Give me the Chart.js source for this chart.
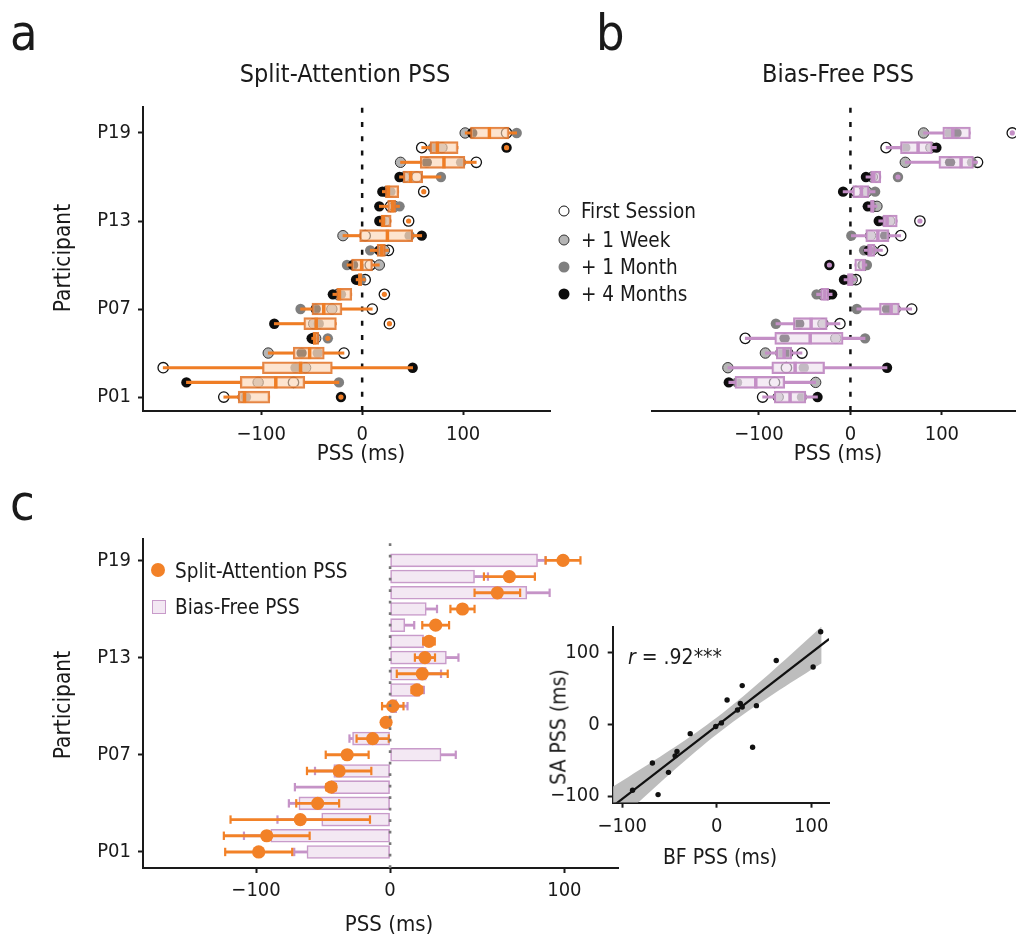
<!DOCTYPE html>
<html><head><meta charset="utf-8">
<script src="https://cdn.jsdelivr.net/npm/chart.js@4.4.1/dist/chart.umd.min.js"></script>
<style>
html,body{margin:0;padding:0;background:#fff;overflow:hidden;width:1016px;height:939px;}
body{position:relative;font-family:"DejaVu Sans Condensed","Liberation Sans Narrow","Liberation Sans",sans-serif;color:#1a1a1a;}
canvas{position:absolute;}
.t{position:absolute;white-space:nowrap;line-height:1;transform:translate(-50%,-50%);}
.v{transform:translate(-50%,-50%) rotate(-90deg);}
.l{position:absolute;white-space:nowrap;line-height:1;transform:translate(0,-50%);}
.p{position:absolute;line-height:1;font-size:50px;}
.mk{position:absolute;border-radius:50%;transform:translate(-50%,-50%);box-sizing:border-box;}
</style></head><body>
<canvas id="ca" width="570" height="480" style="left:0px;top:0px"></canvas>
<canvas id="cb" width="430" height="480" style="left:600px;top:0px"></canvas>
<canvas id="cc" width="640" height="439" style="left:0px;top:500px"></canvas>
<canvas id="cd" width="330" height="280" style="left:520px;top:600px"></canvas>

<div class="p" style="left:10px;top:8px">a</div>
<div class="p" style="left:596px;top:8px">b</div>
<div class="p" style="left:10px;top:478px">c</div>

<div class="t" style="left:345px;top:73px;font-size:25px">Split-Attention PSS</div>
<div class="t" style="left:838px;top:73px;font-size:25px">Bias-Free PSS</div>
<div class="t v" style="left:62px;top:258px;font-size:22.5px">Participant</div>
<div class="t v" style="left:62px;top:705px;font-size:22.5px">Participant</div>
<div class="t" style="left:361px;top:453px;font-size:22px">PSS (ms)</div>
<div class="t" style="left:838px;top:453px;font-size:22px">PSS (ms)</div>
<div class="t" style="left:389px;top:924px;font-size:22px">PSS (ms)</div>
<div class="t v" style="left:559px;top:727px;font-size:21px">SA PSS (ms)</div>
<div class="t" style="left:720px;top:857px;font-size:21px">BF PSS (ms)</div>
<div class="l" style="left:628px;top:657px;font-size:21px"><i>r</i> = .92***</div>

<div class="mk" style="left:564px;top:211px;width:11px;height:11px;background:#fff;border:1.3px solid #111"></div>
<div class="mk" style="left:564px;top:240px;width:11px;height:11px;background:#b5b5b5;border:1px solid #333"></div>
<div class="mk" style="left:564px;top:267px;width:11px;height:11px;background:#7f7f7f"></div>
<div class="mk" style="left:564px;top:294px;width:11px;height:11px;background:#0d0d0d"></div>
<div class="l" style="left:581px;top:211px;font-size:20.5px">First Session</div>
<div class="l" style="left:581px;top:240px;font-size:20.5px">+ 1 Week</div>
<div class="l" style="left:581px;top:267px;font-size:20.5px">+ 1 Month</div>
<div class="l" style="left:581px;top:294px;font-size:20.5px">+ 4 Months</div>

<div class="mk" style="left:158px;top:570px;width:14px;height:14px;background:#f28127"></div>
<div style="position:absolute;left:152px;top:600px;width:14px;height:14px;box-sizing:border-box;background:#f3e8f3;border:1.5px solid #c89bca"></div>
<div class="l" style="left:175px;top:571px;font-size:20.5px">Split-Attention PSS</div>
<div class="l" style="left:175px;top:607px;font-size:20.5px">Bias-Free PSS</div>

<script>
// ---------------- data ----------------
const participants = ['P01','P02','P03','P04','P05','P06','P07','P08','P09','P10','P11','P12','P13','P14','P15','P16','P17','P18','P19'];
const sessionNames = ['First Session','+ 1 Week','+ 1 Month','+ 4 Months'];

// Panel a: Split-Attention PSS per session (ms)
const saFirst = [-137,-68,-197,-18,-48,27,10,22,3,8,26,3,46,28,61,54,113,59,143];
const saWeek  = [-118,-103,-56,-93,-46,-48,-30,-24,-3,17,22,-19,23,32,24,42,38,79,102];
const saMonth = [-115,-23,-66,-44,-34,-43,-61,-21,-1,-15,8,47,19,37,28,78,98,70,153];
const saFour  = [-21,-174,50,-60,-50,-87,-46,-29,-6,-9,17,59,17,17,20,37,64,143,109];

// Panel b: Bias-Free PSS per session (ms)
const bfFirst = [-96,-83,-70,-53,-115,-11.5,67,-25,6,14,35,55,76,25,6,27,139,39,177];
const bfWeek  = [-79,-38,-134,-93,-16,-30,49,-31,2,15,24,22,43,29,18,24,60,88,80];
const bfMonth = [-53,-124,-51,-77,16,-81.5,7,-37,-2,18,15,1,37,23,27,52,133,60,108];
const bfFour  = [-36,-133,40,-68,-72,-56,40,-20,-7,-23,20,38,31,19,-8,17,109,94,116];

// Panel c: means and error bars (ms)
const saMean = [-98,-92,-67,-54,-44,-38,-32,-13,-3,2,20,24,26,29,34,54,80,89,129];
const saErr  = [25,32,52,16,3.6,24,16,12,2,8,4,19,7.5,4.3,10,9,17,19,13];
const bfMean = [-62,-89,-51,-68,-44,-42,38,-28,-1,5,22,27,42,25,11,27,102,63,110];
const bfErr  = [9.5,20,33,7.5,27,14,11,2.3,3,8,3.2,11,9,2,7,8,17,10,6];

// ticks
const yTickRows = [1,7,13,19];
const yTickLabels = ['P01','P07','P13','P19'];
const pssTicks = [-100,0,100];
const pssTickLabels = ['\u2212100','0','100'];
const cTicks = [-100,0,130];            // where the reference draws its three ticks
const cTickLabels = ['\u2212100','0','100'];
const insetTicks = [-100,0,100];
const insetTickLabels = ['\u2212100','0','100'];

// ---------------- helpers ----------------
const FONT = "'DejaVu Sans Condensed','Liberation Sans Narrow','Liberation Sans',sans-serif";
const INK = '#1a1a1a';
const TICKSIZE = 20;
const rows = participants.map((p,i)=>i+1);

function quantile(s,p){const pos=(s.length-1)*p;const lo=Math.floor(pos);const hi=Math.min(lo+1,s.length-1);return s[lo]+(pos-lo)*(s[hi]-s[lo]);}
function boxStats(vals){
  const s=[...vals].sort((a,b)=>a-b);
  const q1=quantile(s,.25),med=quantile(s,.5),q3=quantile(s,.75),iqr=q3-q1;
  const lo=q1-1.5*iqr,hi=q3+1.5*iqr;
  const inside=s.filter(v=>v>=lo&&v<=hi);
  let wlo=Math.min(...inside),whi=Math.max(...inside);
  if(wlo>q1)wlo=q1; if(whi<q3)whi=q3;
  return {q1,med,q3,wlo,whi,fl:s.filter(v=>v<lo||v>hi)};
}
function xAxis(min,max,vals,labels,o){
  return {type:'linear',min,max,display:true,offset:false,beginAtZero:false,
    afterBuildTicks:s=>{s.ticks=vals.map(v=>({value:v}));},
    afterFit:s=>{s.height=o.h;},
    ticks:{autoSkip:false,maxRotation:0,padding:o.pad,color:INK,font:{family:FONT,size:TICKSIZE},callback:(v,i)=>labels[i]},
    grid:{display:true,offset:false,drawOnChartArea:false,drawTicks:true,tickLength:o.tl,tickWidth:2,tickColor:INK},
    border:{display:true,color:INK,width:2}};
}
function yAxis(min,max,vals,labels,o){
  return {type:'linear',min,max,display:o.show,offset:false,beginAtZero:false,
    afterBuildTicks:s=>{s.ticks=vals.map(v=>({value:v}));},
    afterFit:s=>{s.width=o.w;},
    ticks:{autoSkip:false,padding:o.pad,color:INK,font:{family:FONT,size:TICKSIZE},callback:(v,i)=>labels[i]},
    grid:{display:true,offset:false,drawOnChartArea:false,drawTicks:true,tickLength:o.tl,tickWidth:2,tickColor:INK},
    border:{display:true,color:INK,width:2}};
}
function opts(scales,padding){
  return {responsive:false,animation:false,events:[],layout:{padding},
    plugins:{legend:{display:false},tooltip:{enabled:false}},scales};
}

const sessStyles = [
  {bg:'#ffffff',bc:'#111111',bw:1.3},
  {bg:'#b5b5b5',bc:'#333333',bw:1},
  {bg:'#7f7f7f',bc:'#7f7f7f',bw:0},
  {bg:'#0d0d0d',bc:'#0d0d0d',bw:0}
];

function boxPanel(id,sessions,col,padding,showY){
  const stats = rows.map((r,i)=>boxStats(sessions.map(s=>s[i])));
  const yMin=0.05,yMax=20.77;
  const ds=[];
  ds.push({type:'line',data:[{x:0,y:yMin},{x:0,y:yMax}],borderColor:'#111',borderWidth:2.5,borderDash:[5,9.2],pointRadius:0,fill:false,order:30});
  sessions.forEach((s,k)=>{
    ds.push({type:'scatter',label:sessionNames[k],data:rows.map((r,i)=>({x:s[i],y:r})),
      pointRadius:5.2,backgroundColor:sessStyles[k].bg,borderColor:sessStyles[k].bc,borderWidth:sessStyles[k].bw,order:25-k});
  });
  const bar={type:'bar',indexAxis:'y',grouped:false,borderSkipped:false};
  ds.push(Object.assign({},bar,{data:stats.map((st,i)=>({y:rows[i],x:[st.wlo,st.q1]})),backgroundColor:col.line,borderWidth:0,barThickness:2.4,order:12}));
  ds.push(Object.assign({},bar,{data:stats.map((st,i)=>({y:rows[i],x:[st.q3,st.whi]})),backgroundColor:col.line,borderWidth:0,barThickness:2.4,order:12}));
  ds.push(Object.assign({},bar,{data:stats.map((st,i)=>({y:rows[i],x:[st.q1,st.q3]})),backgroundColor:col.fill,borderColor:col.border,borderWidth:2,barThickness:12,order:10}));
  ds.push({type:'scatter',data:stats.map((st,i)=>({x:st.med,y:rows[i]})),pointStyle:'line',rotation:90,pointRadius:6,borderColor:col.line,borderWidth:3.5,order:8});
  const fl=[];stats.forEach((st,i)=>st.fl.forEach(v=>fl.push({x:v,y:rows[i]})));
  ds.push({type:'scatter',data:fl,pointRadius:2.6,backgroundColor:col.line,borderWidth:0,order:6});
  new Chart(document.getElementById(id),{type:'scatter',data:{datasets:ds},
    options:opts({x:xAxis(-217,186,pssTicks,pssTickLabels,{h:69,tl:4,pad:8}),
                  y:yAxis(yMin,yMax,yTickRows,yTickLabels,{w:showY?143:0,tl:5,pad:7,show:showY})},padding)});
}

boxPanel('ca',[saFirst,saWeek,saMonth,saFour],
  {line:'#ef7d25',fill:'rgba(251,211,178,0.62)',border:'rgba(226,120,48,0.9)'},
  {left:0,right:20,top:107,bottom:0},true);
boxPanel('cb',[bfFirst,bfWeek,bfMonth,bfFour],
  {line:'#c48fc6',fill:'rgba(238,222,238,0.62)',border:'rgba(192,138,194,0.95)'},
  {left:52,right:7,top:107,bottom:0},false);

// ---------------- panel c ----------------
(function(){
  const ORANGE='#f28127',PURPLE='#c593c7';
  const yMin=0.01,yMax=20.32;
  const bar={type:'bar',indexAxis:'y',grouped:false,borderSkipped:false};
  const bfEnd = bfMean.map((m,i)=>m+Math.sign(m)*bfErr[i]);
  const ds=[];
  ds.push(Object.assign({},bar,{data:rows.map((r,i)=>({y:r,x:[bfMean[i],bfEnd[i]]})),backgroundColor:PURPLE,borderWidth:0,barThickness:2.2,order:30}));
  ds.push({type:'scatter',data:rows.map((r,i)=>({x:bfEnd[i],y:r})),pointStyle:'line',rotation:90,pointRadius:4.2,borderColor:PURPLE,borderWidth:2.2,order:29});
  ds.push(Object.assign({},bar,{data:rows.map((r,i)=>({y:r,x:[0,bfMean[i]]})),backgroundColor:'#f3e8f3',borderColor:'#c89bca',borderWidth:1.6,barThickness:13,order:20}));
  ds.push(Object.assign({},bar,{data:rows.map((r,i)=>({y:r,x:[saMean[i]-saErr[i],saMean[i]+saErr[i]]})),backgroundColor:ORANGE,borderWidth:0,barThickness:2.2,order:12}));
  const caps=[];rows.forEach((r,i)=>{caps.push({x:saMean[i]-saErr[i],y:r});caps.push({x:saMean[i]+saErr[i],y:r});});
  ds.push({type:'scatter',data:caps,pointStyle:'line',rotation:90,pointRadius:4.2,borderColor:ORANGE,borderWidth:2.2,order:11});
  ds.push({type:'scatter',label:'Split-Attention PSS',data:rows.map((r,i)=>({x:saMean[i],y:r})),pointRadius:6.6,backgroundColor:ORANGE,borderWidth:0,order:5});
  ds.push({type:'line',data:[{x:0,y:yMin},{x:0,y:yMax}],borderColor:'#777',borderWidth:2.6,borderDash:[2.8,8.7],pointRadius:0,fill:false,order:1});
  new Chart(document.getElementById('cc'),{type:'scatter',data:{datasets:ds},
    options:opts({x:xAxis(-184.3,170,cTicks,cTickLabels,{h:71,tl:5,pad:6}),
                  y:yAxis(yMin,yMax,yTickRows,yTickLabels,{w:143,tl:5,pad:7,show:true})},
                 {left:0,right:22,top:39,bottom:0})});
})();

// ---------------- inset scatter ----------------
(function(){
  const n=bfMean.length;
  const mx=bfMean.reduce((a,b)=>a+b,0)/n, my=saMean.reduce((a,b)=>a+b,0)/n;
  let sxx=0,sxy=0;for(let i=0;i<n;i++){sxx+=(bfMean[i]-mx)**2;sxy+=(bfMean[i]-mx)*(saMean[i]-my);}
  const b=sxy/sxx,a=my-b*mx;
  let sse=0;for(let i=0;i<n;i++){sse+=(saMean[i]-a-b*bfMean[i])**2;}
  const s=Math.sqrt(sse/(n-2)),t=2.11;
  const bandLo=-110,bandHi=111,lineLo=-110,lineHi=119;
  const up=[],dn=[];
  for(let k=0;k<=40;k++){const x=bandLo+(bandHi-bandLo)*k/40;const yh=a+b*x;const h=t*s*Math.sqrt(1/n+(x-mx)**2/sxx);up.push({x,y:yh+h});dn.push({x,y:yh-h});}
  const ds=[
    {type:'line',data:up,borderWidth:0,pointRadius:0,fill:false,order:20},
    {type:'line',data:dn,borderWidth:0,pointRadius:0,fill:'-1',backgroundColor:'rgba(178,178,178,0.85)',order:19},
    {type:'line',data:[{x:lineLo,y:a+b*lineLo},{x:lineHi,y:a+b*lineHi}],borderColor:'#111',borderWidth:2.2,pointRadius:0,fill:false,order:10},
    {type:'scatter',data:bfMean.map((x,i)=>({x,y:saMean[i]})),pointRadius:2.7,backgroundColor:'#111',borderWidth:0,order:1}
  ];
  new Chart(document.getElementById('cd'),{type:'scatter',data:{datasets:ds},
    options:opts({x:xAxis(-110,118.8,insetTicks,insetTickLabels,{h:77.3,tl:5,pad:7.5}),
                  y:yAxis(-109.3,135.7,insetTicks,insetTickLabels,{w:92.7,tl:5,pad:8,show:true})},
                 {left:0,right:21,top:27,bottom:0})});
})();
</script>
</body></html>
